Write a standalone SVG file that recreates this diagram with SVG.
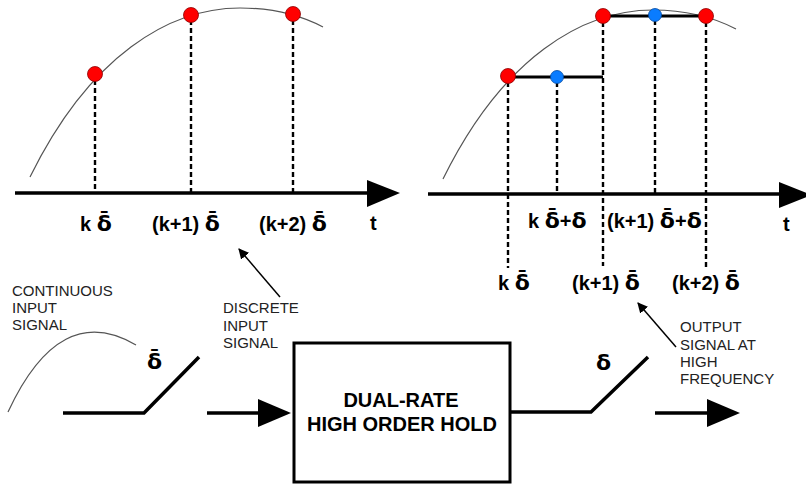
<svg xmlns="http://www.w3.org/2000/svg" width="806" height="485" viewBox="0 0 806 485">
<defs>
<style>
.curve{fill:none;stroke:#555;stroke-width:1.2}
.axis{stroke:#000;stroke-width:3.5}
.dash{stroke:#000;stroke-width:2.4;stroke-dasharray:5,3}
.hold{stroke:#000;stroke-width:3}
.thick{stroke:#000;stroke-width:3.5;fill:none}
.red{fill:#ff0000;stroke:#8b0000;stroke-width:0.8}
.blue{fill:#0a7cff;stroke:#0047a0;stroke-width:0.8}
.lbl{font-family:"Liberation Sans",Arial,sans-serif;font-weight:bold;font-size:20px;fill:#000}
.d{font-family:"DejaVu Sans",sans-serif;font-weight:bold;font-size:22px}
.note{font-family:"Liberation Sans",Arial,sans-serif;font-size:15px;fill:#222}
.thin{stroke:#000;stroke-width:1.5;marker-end:url(#ah)}
</style>
<marker id="ah" viewBox="0 0 10 10" refX="9" refY="5" markerWidth="7" markerHeight="7" orient="auto" markerUnits="strokeWidth">
<path d="M0,0 L10,5 L0,10 z" fill="#000"/>
</marker>
</defs>

<g id="left-plot">
<path class="curve" d="M30,177 C90,55 170,8 240,8 C275,8 300,15 323,27"/>
<line class="axis" x1="15" y1="193" x2="370" y2="193"/>
<polygon points="367,180 400,193 367,207" fill="#000"/>
<line class="dash" x1="95" y1="80" x2="95" y2="193"/>
<line class="dash" x1="191" y1="20" x2="191" y2="193"/>
<line class="dash" x1="293" y1="20" x2="293" y2="193"/>
<circle class="red" cx="95" cy="74" r="7.5"/>
<circle class="red" cx="191" cy="15" r="7.5"/>
<circle class="red" cx="293" cy="14" r="7.5"/>
<text class="lbl" x="80" y="231">k <tspan class="d">δ̄</tspan></text>
<text class="lbl" x="152" y="231">(k+1) <tspan class="d">δ̄</tspan></text>
<text class="lbl" x="259" y="231">(k+2) <tspan class="d">δ̄</tspan></text>
<text class="lbl" x="370" y="230">t</text>
</g>

<g id="right-plot">
<path class="curve" transform="translate(413,2)" d="M30,177 C90,55 170,8 240,8 C275,8 300,15 323,27"/>
<line class="axis" x1="428" y1="194" x2="782" y2="194"/>
<polygon points="779,182 812,195 779,208" fill="#000"/>
<line class="hold" x1="508" y1="77" x2="603" y2="77"/>
<line class="hold" x1="603" y1="16" x2="706" y2="16"/>
<line class="dash" x1="508" y1="82" x2="508" y2="268"/>
<line class="dash" x1="557" y1="82" x2="557" y2="194"/>
<line class="dash" x1="603" y1="22" x2="603" y2="266"/>
<line class="dash" x1="655" y1="20" x2="655" y2="194"/>
<line class="dash" x1="706" y1="22" x2="706" y2="268"/>
<circle class="red" cx="508" cy="76" r="7.5"/>
<circle class="blue" cx="557" cy="77" r="6.5"/>
<circle class="red" cx="603" cy="16" r="7.5"/>
<circle class="blue" cx="655" cy="15" r="6.5"/>
<circle class="red" cx="706" cy="16" r="7.5"/>
<text class="lbl" x="528" y="228">k <tspan class="d">δ̄</tspan>+<tspan class="d">δ</tspan></text>
<text class="lbl" x="607" y="228">(k+1) <tspan class="d">δ̄</tspan>+<tspan class="d">δ</tspan></text>
<text class="lbl" x="783" y="231">t</text>
<text class="lbl" x="498" y="290">k <tspan class="d">δ̄</tspan></text>
<text class="lbl" x="572" y="290">(k+1) <tspan class="d">δ̄</tspan></text>
<text class="lbl" x="672" y="290">(k+2) <tspan class="d">δ̄</tspan></text>
</g>

<g id="input-signal">
<path class="curve" d="M8,412 Q60,300 136,345"/>
<text class="note" x="12" y="296">CONTINUOUS</text>
<text class="note" x="12" y="313">INPUT</text>
<text class="note" x="12" y="330">SIGNAL</text>
</g>

<g id="sampler">
<polyline class="thick" points="63,413 144,413 199,357"/>
<text class="lbl d" x="147" y="369">δ̄</text>
</g>

<g id="discrete-label">
<text class="note" x="223" y="313">DISCRETE</text>
<text class="note" x="223" y="331">INPUT</text>
<text class="note" x="223" y="348">SIGNAL</text>
</g>

<g id="hold-box">
<rect x="294" y="343" width="216" height="139" fill="#fff" stroke="#000" stroke-width="3"/>
<text class="lbl" x="401" y="407" text-anchor="middle">DUAL-RATE</text>
<text class="lbl" x="402" y="431" text-anchor="middle">HIGH ORDER HOLD</text>
</g>

<g id="output-sampler">
<polyline class="thick" points="510,412 591,412 648,357"/>
<text class="lbl d" x="596" y="370">δ</text>
</g>

<g id="output-label">
<text class="note" x="680" y="332">OUTPUT</text>
<text class="note" x="680" y="350">SIGNAL AT</text>
<text class="note" x="680" y="367">HIGH</text>
<text class="note" x="680" y="384">FREQUENCY</text>
</g>

<g id="connectors">
<line class="thick" x1="207" y1="413" x2="260" y2="413"/>
<polygon points="258,399 291,413 258,427" fill="#000"/>
<line class="thick" x1="655" y1="413" x2="709" y2="413"/>
<polygon points="707,399 740,413 707,427" fill="#000"/>
<line class="thin" x1="280" y1="297" x2="239" y2="249"/>
<line class="thin" x1="676" y1="347" x2="638" y2="303"/>
</g>
</svg>
